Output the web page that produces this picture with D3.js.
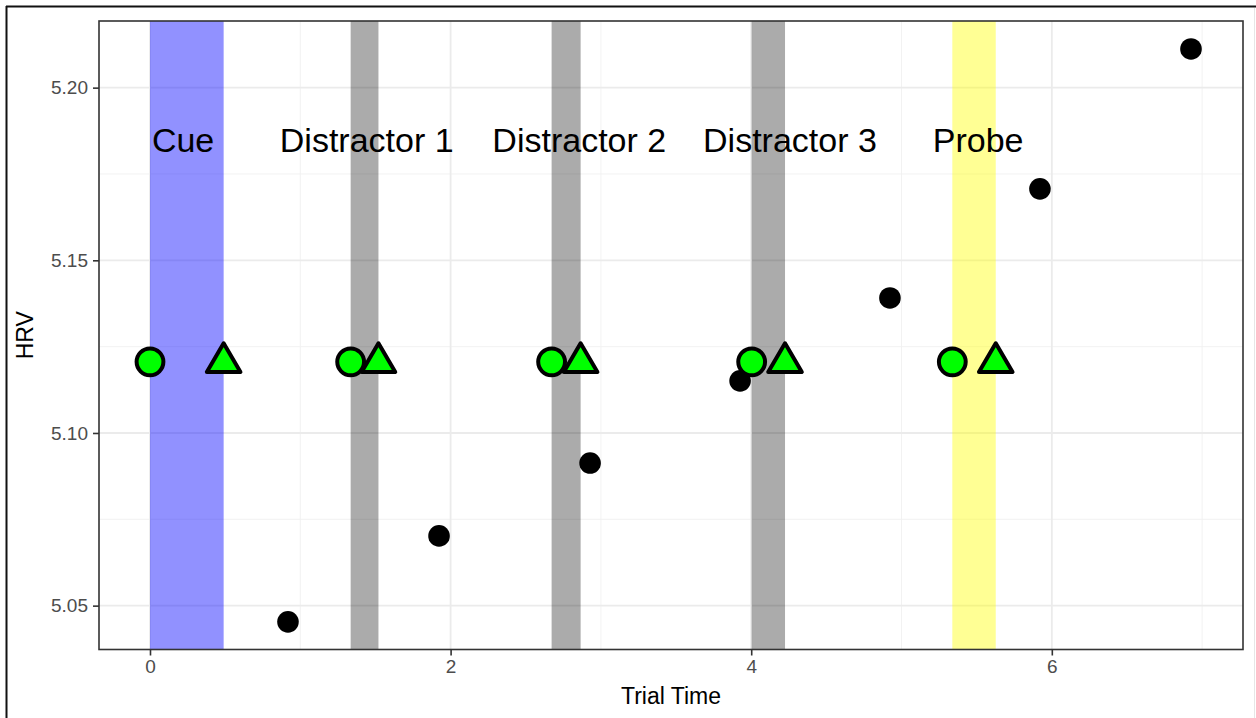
<!DOCTYPE html>
<html>
<head>
<meta charset="utf-8">
<script src="https://cdn.jsdelivr.net/npm/d3@7"></script>
<style>
  html, body { margin: 0; padding: 0; background: #fff; }
  svg { display: block; font-family: "Liberation Sans", Arial, Helvetica, sans-serif; }
</style>
</head>
<body>
<svg id="chart" width="1256" height="718"></svg>
<script>
// Trial events: onset / offset times and label positions
const eventNames = ["Cue", "Distractor 1", "Distractor 2", "Distractor 3", "Probe"];
const eventOnset = [0, 1.335, 2.672, 4.003, 5.338];
const eventOffset = [0.49, 1.52, 2.865, 4.225, 5.627];
const eventLabelX = [0.22, 1.442, 2.856, 4.258, 5.51];
const eventFill = ["#0000ff", "#000000", "#000000", "#000000", "#ffff00"];
const eventAlpha = [0.43, 0.33, 0.33, 0.33, 0.42];
const eventMarkerHRV = 5.1206;
const eventLabelHRV = 5.185;

// HRV samples across the trial
const sampleTime = [0.918, 1.923, 2.928, 3.926, 4.923, 5.921, 6.926];
const sampleHRV = [5.0453, 5.0702, 5.0913, 5.1151, 5.1391, 5.1707, 5.2112];

// Axis ticks
const xTicks = [0, 2, 4, 6];
const xMinor = [1, 3, 5, 7];
const yTicks = [5.05, 5.10, 5.15, 5.20];
const yMinor = [5.075, 5.125, 5.175];

const svg = d3.select("#chart");
const panel = { left: 99, right: 1243, top: 21, bottom: 649.5 };

const x = d3.scaleLinear().domain([-0.3393, 7.272]).range([panel.left, panel.right]);
const y = d3.scaleLinear().domain([5.0373, 5.2193]).range([panel.bottom, panel.top]);

// outer frame
svg.append("line").attr("x1", 6).attr("x2", 1256).attr("y1", 6.5).attr("y2", 6.5)
  .attr("stroke", "#111").attr("stroke-width", 2);
svg.append("line").attr("x1", 6.5).attr("x2", 6.5).attr("y1", 6).attr("y2", 718)
  .attr("stroke", "#111").attr("stroke-width", 2);
svg.append("line").attr("x1", 1254.5).attr("x2", 1254.5).attr("y1", 8).attr("y2", 718)
  .attr("stroke", "#e6e6e6").attr("stroke-width", 1);

const g = svg.append("g");
const clip = svg.append("defs").append("clipPath").attr("id", "panelClip");
clip.append("rect").attr("x", panel.left).attr("y", panel.top)
  .attr("width", panel.right - panel.left).attr("height", panel.bottom - panel.top);

// grid
const grid = g.append("g");
grid.selectAll(".xmin").data(xMinor.filter(v => x(v) < panel.right)).join("line")
  .attr("x1", d => x(d)).attr("x2", d => x(d)).attr("y1", panel.top).attr("y2", panel.bottom)
  .attr("stroke", "#f0f0f0").attr("stroke-width", 0.9);
grid.selectAll(".ymin").data(yMinor).join("line")
  .attr("x1", panel.left).attr("x2", panel.right).attr("y1", d => y(d)).attr("y2", d => y(d))
  .attr("stroke", "#f0f0f0").attr("stroke-width", 0.9);
grid.selectAll(".xmaj").data(xTicks).join("line")
  .attr("x1", d => x(d)).attr("x2", d => x(d)).attr("y1", panel.top).attr("y2", panel.bottom)
  .attr("stroke", "#ebebeb").attr("stroke-width", 1.8);
grid.selectAll(".ymaj").data(yTicks).join("line")
  .attr("x1", panel.left).attr("x2", panel.right).attr("y1", d => y(d)).attr("y2", d => y(d))
  .attr("stroke", "#ebebeb").attr("stroke-width", 1.8);

// event bands
const events = eventNames.map((n, i) => ({
  name: n, on: eventOnset[i], off: eventOffset[i], lx: eventLabelX[i],
  fill: eventFill[i], alpha: eventAlpha[i]
}));
g.append("g").attr("clip-path", "url(#panelClip)")
  .selectAll("rect").data(events).join("rect")
  .attr("x", d => x(d.on)).attr("width", d => x(d.off) - x(d.on))
  .attr("y", panel.top).attr("height", panel.bottom - panel.top)
  .attr("fill", d => d.fill).attr("fill-opacity", d => d.alpha);

// HRV samples
g.append("g").selectAll("circle").data(sampleTime.map((t, i) => [t, sampleHRV[i]])).join("circle")
  .attr("cx", d => x(d[0])).attr("cy", d => y(d[1])).attr("r", 10.8).attr("fill", "#000");

// onset markers
g.append("g").selectAll("circle").data(events).join("circle")
  .attr("cx", d => x(d.on)).attr("cy", y(eventMarkerHRV)).attr("r", 13.4)
  .attr("fill", "#00ff00").attr("stroke", "#000").attr("stroke-width", 4);

// offset markers
const tri = "M0,-18.5L16.8,10.2L-16.8,10.2Z";
g.append("g").selectAll("path").data(events).join("path")
  .attr("transform", d => `translate(${x(d.off)},${y(eventMarkerHRV)})`)
  .attr("d", tri).attr("fill", "#00ff00").attr("stroke", "#000")
  .attr("stroke-width", 4).attr("stroke-linejoin", "round");

// event labels
g.append("g").selectAll("text").data(events).join("text")
  .attr("x", d => x(d.lx)).attr("y", y(eventLabelHRV)).attr("dy", "0.36em")
  .attr("text-anchor", "middle").attr("font-size", 34).attr("fill", "#000")
  .text(d => d.name);

// panel border
g.append("rect").attr("x", panel.left).attr("y", panel.top)
  .attr("width", panel.right - panel.left).attr("height", panel.bottom - panel.top)
  .attr("fill", "none").attr("stroke", "#333").attr("stroke-width", 1.6);

// axes
const xAxis = d3.axisBottom(x).tickValues(xTicks).tickFormat(d3.format("d"))
  .tickSize(6).tickPadding(4);
const xg = svg.append("g").attr("transform", `translate(0,${panel.bottom})`).call(xAxis);
xg.select(".domain").remove();
xg.selectAll(".tick line").attr("stroke", "#333").attr("stroke-width", 1.6);
xg.selectAll(".tick text").attr("fill", "#4d4d4d").attr("font-size", 19)
  .attr("font-family", "Liberation Sans, Arial, sans-serif");

const yAxis = d3.axisLeft(y).tickValues(yTicks).tickFormat(d3.format(".2f"))
  .tickSize(6).tickPadding(5);
const yg = svg.append("g").attr("transform", `translate(${panel.left},0)`).call(yAxis);
yg.select(".domain").remove();
yg.selectAll(".tick line").attr("stroke", "#333").attr("stroke-width", 1.6);
yg.selectAll(".tick text").attr("fill", "#4d4d4d").attr("font-size", 19)
  .attr("font-family", "Liberation Sans, Arial, sans-serif");

// axis titles
svg.append("text").attr("x", (panel.left + panel.right) / 2).attr("y", 704)
  .attr("text-anchor", "middle").attr("font-size", 23).attr("fill", "#000").text("Trial Time");
svg.append("text").attr("transform", `translate(33,${(panel.top + panel.bottom) / 2}) rotate(-90)`)
  .attr("text-anchor", "middle").attr("font-size", 23).attr("fill", "#000").text("HRV");
</script>
</body>
</html>
